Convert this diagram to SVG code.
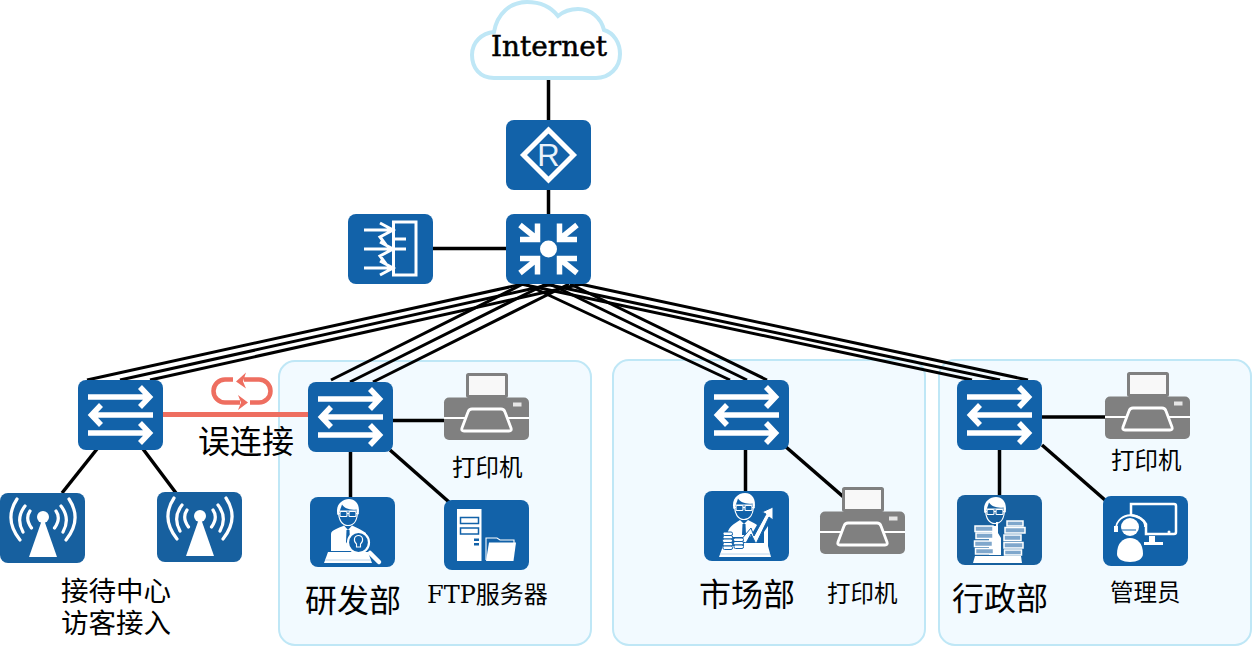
<svg xmlns="http://www.w3.org/2000/svg" xmlns:xlink="http://www.w3.org/1999/xlink" width="1252" height="650" viewBox="0 0 1252 650">
<style>
.panel{fill:#f2faff;stroke:#bfe7f6;stroke-width:2}
.box{fill:#1262a9}
.boxd{fill:#17609f}
.w{fill:none;stroke:#fff;stroke-width:5.500}
.wf{fill:#fff}
.wl{fill:none;stroke:#fff;stroke-width:1.100}
.conn line{stroke:#000;stroke-width:3.500}
.fan line{stroke:#000;stroke-width:3}
.t{font-family:"DejaVu Serif","Noto Sans CJK SC",serif;fill:#000}
.c{font-family:"Noto Sans CJK SC","Noto Sans CJK JP",sans-serif;fill:#000}
</style>
<defs>
<g id="sw">
<rect class="box" width="85" height="70" rx="8"/>
<path class="w" d="M10 17H70M62 7L71.500 17L62 27M75 35H14M23 25L13.500 35L23 45M10 53H70M62 43L71.500 53L62 63"/>
</g>
<g id="printer">
<rect x="23.500" y="1.500" width="39" height="22" fill="#f8f8f8" stroke="#808080" stroke-width="3" rx="1"/>
<rect y="24.500" width="85" height="42.500" rx="5" fill="#808080"/>
<path d="M0 45H85" stroke="#fff" stroke-width="1.800"/>
<path d="M28 36H57Q60 36 61 39L67 55Q68 58 65 58H20Q17 58 18 55L24 39Q25 36 28 36Z" fill="#808080" stroke="#fff" stroke-width="2.800"/>
<rect x="69" y="29.500" width="8.500" height="4" fill="#e6e6e6"/>
</g>
<g id="head">
<path d="M28.500 14C28.500 23 32 28.500 38 28.500C44 28.500 47.500 23 47.500 14Z" fill="none" stroke="#fff" stroke-width="1.200"/>
<path class="wf" d="M27.500 18C25 8 32 2 39 2C46 2 50.500 8 48.500 18L46.500 12.500C40 13.500 34 11 32 7.500C31 11 29.500 14 28.500 18Z"/>
<rect x="30" y="14.500" width="7" height="5" rx="1" class="wl"/>
<rect x="39" y="14.500" width="7" height="5" rx="1" class="wl"/>
<path class="wl" d="M37 16.500H39M30 16.500H27.500M46 16.500H48.500"/>
</g>
<g id="ap">
<path class="wf" d="M43 24L57 64H29Z"/>
<circle class="wf" cx="43" cy="24" r="6"/>
<g fill="none" stroke="#fff" stroke-width="3.200" stroke-linecap="round">
<path d="M17 6C9 18 8 32 20 47M25 13C18 22 18 30 23 39M30 18C26.500 23 26.500 28 31.500 35"/>
<path d="M69 6C77 18 78 32 66 47M61 13C68 22 68 30 63 39M56 18C59.500 23 59.500 28 54.500 35"/>
</g>
</g>
</defs>

<g id="panels">
<rect class="panel" x="279" y="361" width="312" height="284" rx="16"/>
<rect class="panel" x="613" y="360" width="312" height="285" rx="16"/>
<rect class="panel" x="939" y="360" width="312" height="285" rx="16"/>
</g>

<g id="connectors" class="conn">
<line x1="548.500" y1="80" x2="548.500" y2="120"/>
<line x1="548.500" y1="190" x2="548.500" y2="214"/>
<line x1="433" y1="248.500" x2="506" y2="248.500"/>
<g class="fan">
<line x1="87" y1="380" x2="523" y2="284"/>
<line x1="120" y1="380" x2="553" y2="284"/>
<line x1="150" y1="380" x2="582" y2="284"/>
<line x1="331" y1="380" x2="523" y2="284"/>
<line x1="350" y1="382" x2="546" y2="284"/>
<line x1="373" y1="382" x2="569" y2="284"/>
<line x1="730" y1="380" x2="525" y2="284"/>
<line x1="747" y1="380" x2="550" y2="284"/>
<line x1="767" y1="380" x2="570" y2="284"/>
<line x1="972" y1="380" x2="521" y2="284"/>
<line x1="1000" y1="380" x2="545" y2="284"/>
<line x1="1028" y1="380" x2="580" y2="284"/>
</g>
<line x1="97" y1="449" x2="62" y2="493"/>
<line x1="143" y1="449" x2="176" y2="493"/>
<line x1="163" y1="414.500" x2="308" y2="414.500" style="stroke:#ee6e60;stroke-width:5"/>
<line x1="393" y1="420.500" x2="444" y2="420.500"/>
<line x1="350.500" y1="452" x2="350.500" y2="497"/>
<line x1="390" y1="450" x2="449" y2="502"/>
<line x1="745.500" y1="450" x2="745.500" y2="491"/>
<line x1="786" y1="447" x2="862" y2="513"/>
<line x1="1042" y1="417" x2="1105" y2="417"/>
<line x1="999.500" y1="450" x2="999.500" y2="495"/>
<line x1="1042" y1="445" x2="1105" y2="500"/>
</g>

<g id="internet">
<path d="M494 78C480 78 472 68 472 55C472 42 482 33 494 32C497 14 510 2 527 2C540 2 551 7 558 16C564 11 571 9 578 9C591 9 601 18 604 30C614 33 620 43 620 54C620 68 609 78 596 78Z" fill="#fff" stroke="#bfe7f6" stroke-width="4"/>
<text class="t" x="491" y="56" font-size="27" textLength="116" lengthAdjust="spacingAndGlyphs" stroke="#000" stroke-width="0.500">Internet</text>
</g>

<g id="router" transform="translate(506 120)">
<rect class="box" width="85" height="70" rx="8"/>
<path d="M42.500 10L67.500 35L42.500 60L17.500 35Z" fill="none" stroke="#fff" stroke-width="5"/>
<text x="42.500" y="46" font-size="31" text-anchor="middle" fill="#eaf2fa" font-family="Liberation Sans,sans-serif">R</text>
</g>

<g id="core" transform="translate(506 214)">
<rect class="box" width="85" height="70" rx="8"/>
<circle class="wf" cx="42.500" cy="35" r="8.500"/>
<path class="w" d="M31.500 9.500V25.500H14M30 24L14 11"/>
<path class="w" d="M31.500 9.500V25.500H14M30 24L14 11" transform="matrix(-1 0 0 1 85 0)"/>
<path class="w" d="M31.500 9.500V25.500H14M30 24L14 11" transform="matrix(1 0 0 -1 0 70)"/>
<path class="w" d="M31.500 9.500V25.500H14M30 24L14 11" transform="matrix(-1 0 0 -1 85 70)"/>
</g>

<g id="firewall" transform="translate(348 214)">
<rect class="box" width="85" height="70" rx="8"/>
<rect x="45.500" y="8" width="22.500" height="53" fill="none" stroke="#fff" stroke-width="3"/>
<g fill="none" stroke="#fff" stroke-width="3">
<path d="M16 16H45M32 9L45 16L32 23L38 31M16 35H58M32 28L45 35L32 42L38 50M16 54H45M32 47L45 54L32 61M45 25H58"/>
</g>
</g>

<g id="switch1"><use href="#sw" x="78" y="380"/></g>
<g id="switch2"><use href="#sw" x="308" y="382"/></g>
<g id="switch3"><use href="#sw" x="704" y="380"/></g>
<g id="switch4"><use href="#sw" x="957" y="380"/></g>

<g id="ap1"><rect class="boxd" x="0" y="493" width="85" height="70" rx="8"/><use href="#ap" x="0" y="493"/></g>
<g id="ap2"><rect class="boxd" x="157" y="492" width="85" height="70" rx="8"/><use href="#ap" x="157" y="492"/></g>

<g id="loop" fill="none" stroke="#ee6e60" stroke-width="4.500">
<path d="M233 379.500H225A11.500 11.500 0 0 0 225 402.500H240"/>
<path d="M244 379.500H259A11.500 11.500 0 0 1 259 402.500H250"/>
<path d="M238 395L248 402.500L238 410L241 402.500Z" fill="#ee6e60" stroke="none"/>
<path d="M246 372.500L236 381.500L246 388.500L243 381.500Z" fill="#ee6e60" stroke="none"/>
</g>
<text class="c" x="198" y="453" font-size="32">误连接</text>

<g id="rd" transform="translate(310 497)">
<rect class="box" width="85" height="70" rx="8"/>
<use href="#head"/>
<path class="wf" d="M21 54V37C21 33 29 31 34 28.500L38 33L42 28.500C47 31 52 33 56 36V54Z"/>
<path d="M36.500 33H39.500L40 45L38 48L36 45Z" fill="#1262a9"/>
<path class="wf" d="M18 55H58L62 66H14Z"/>
<path d="M15 63H61" stroke="#bcd4ea" stroke-width="1"/>
<circle cx="48.500" cy="45.500" r="10.500" fill="#1262a9" stroke="#fff" stroke-width="2.200"/>
<path d="M60 56L69 65" stroke="#fff" stroke-width="4.500" stroke-linecap="round"/>
<path class="wl" d="M48.500 38.500C44 38.500 43 44 46.500 47V50H50.500V47C54 44 53 38.500 48.500 38.500Z"/>
</g>

<g id="ftp" transform="translate(444 500)">
<rect class="box" width="85" height="70" rx="8"/>
<rect class="wf" x="13" y="9" width="24.500" height="52"/>
<rect x="16.500" y="17.500" width="18" height="6" fill="#fff" stroke="#1262a9" stroke-width="1.500"/>
<rect x="16.500" y="28" width="18" height="6" fill="#fff" stroke="#1262a9" stroke-width="1.500"/>
<rect x="30" y="38.500" width="5" height="2.500" fill="#1262a9"/>
<rect x="30" y="43" width="5" height="2.500" fill="#1262a9"/>
<path class="wl" d="M42 60V38H53L56 40H70V43"/>
<path class="wf" d="M45 42.500H72L69.500 61H42Z"/>
</g>

<g id="printer2"><use href="#printer" x="444" y="373"/></g>
<g id="printer3"><use href="#printer" x="820" y="487"/></g>
<g id="printer4"><use href="#printer" x="1105" y="372"/></g>

<g id="market" transform="translate(704 491)">
<rect class="box" width="85" height="70" rx="8"/>
<use href="#head" x="2"/>
<path class="wf" d="M23 46C23 36 30 33 36 29L40 33L44 29C47 31 51 32 53 34L46 46Z"/>
<path d="M38.500 33H41.500L42 44H38Z" fill="#1262a9"/>
<path d="M36 50L47 37L50 45L62 23L58 21L69 16L69 29L65 26L52 53L47 43L42 52Z" fill="#fff" stroke="#1262a9" stroke-width="1"/>
<path class="wf" d="M40 52H60V41L64 35V55L67 66H15L19 55H40Z"/>
<path d="M16 63H66" stroke="#bcd4ea" stroke-width="1"/>
<g fill="#fff" stroke="#1262a9" stroke-width="1">
<rect x="19" y="41" width="9.500" height="3.500" rx="1.500"/><rect x="19" y="44.500" width="9.500" height="3.500" rx="1.500"/><rect x="18.500" y="48" width="10" height="3.500" rx="1.500"/><rect x="19" y="51.500" width="9.500" height="3.500" rx="1.500"/>
<rect x="29.500" y="47" width="10" height="3.500" rx="1.500"/><rect x="29.500" y="50.500" width="10" height="3.500" rx="1.500"/><rect x="30" y="54" width="9.500" height="3.500" rx="1.500"/>
<rect x="19" y="55" width="9.500" height="3.500" rx="1.500"/>
</g>
</g>

<g id="admin" transform="translate(957 495)">
<rect class="boxd" width="85" height="70" rx="8"/>
<use href="#head"/>
<path class="wf" d="M35 38V31H39V27H41V38L44 43V60H32V44Z"/>
<g fill="#7fa7cc" stroke="#fff" stroke-width="1.500">
<rect x="18" y="31" width="18" height="5.500"/><rect x="19" y="38" width="17" height="5.500"/><rect x="17.500" y="46" width="18" height="5.500"/><rect x="18.500" y="53.500" width="18" height="5.500"/>
<rect x="50" y="26" width="16" height="5"/><rect x="48" y="32.500" width="20" height="5.500"/><rect x="47" y="40" width="17" height="5.500"/><rect x="47" y="47.500" width="19" height="5.500"/><rect x="47.500" y="55" width="17" height="5"/>
</g>
<path class="wf" d="M18 61H64L65 68H16Z"/>
</g>

<g id="manager" transform="translate(1103 496)">
<rect class="box" width="85" height="70" rx="8"/>
<path d="M28 8H71Q73 8 73 10V36Q73 38 71 38H43V28Q39 21 28 19Z" fill="none" stroke="#fff" stroke-width="2.500"/>
<circle cx="66" cy="36" r="1.500" fill="#fff"/>
<path class="wf" d="M46 40H52V46H60V49H41V46H46Z"/>
<path class="wf" d="M14 58C14 47 20 42 27 42C34 42 40 47 40 58C40 63 34 66 27 66C20 66 14 63 14 58Z"/>
<circle class="wf" cx="27" cy="31" r="9"/>
<path d="M13 33C13 15 42 15 42 31" fill="none" stroke="#fff" stroke-width="1.800"/>
<path d="M11 30H15V36H11Z" fill="#fff"/>
<path d="M18 34H33" stroke="#1262a9" stroke-width="1"/>
</g>

<g id="labels">
<text class="c" font-size="27.500"><tspan x="61" y="601">接待中心</tspan><tspan x="61" y="633">访客接入</tspan></text>
<text class="c" x="305" y="612" font-size="32">研发部</text>
<text class="c" x="452" y="476" font-size="23.500">打印机</text>
<text class="t" x="427" y="603" font-size="24">FTP<tspan class="c">服务器</tspan></text>
<text class="c" x="699" y="606" font-size="32">市场部</text>
<text class="c" x="827" y="602" font-size="23.500">打印机</text>
<text class="c" x="952" y="610" font-size="32">行政部</text>
<text class="c" x="1111" y="469" font-size="23.500">打印机</text>
<text class="c" x="1110" y="601" font-size="23.500">管理员</text>
</g>
</svg>
